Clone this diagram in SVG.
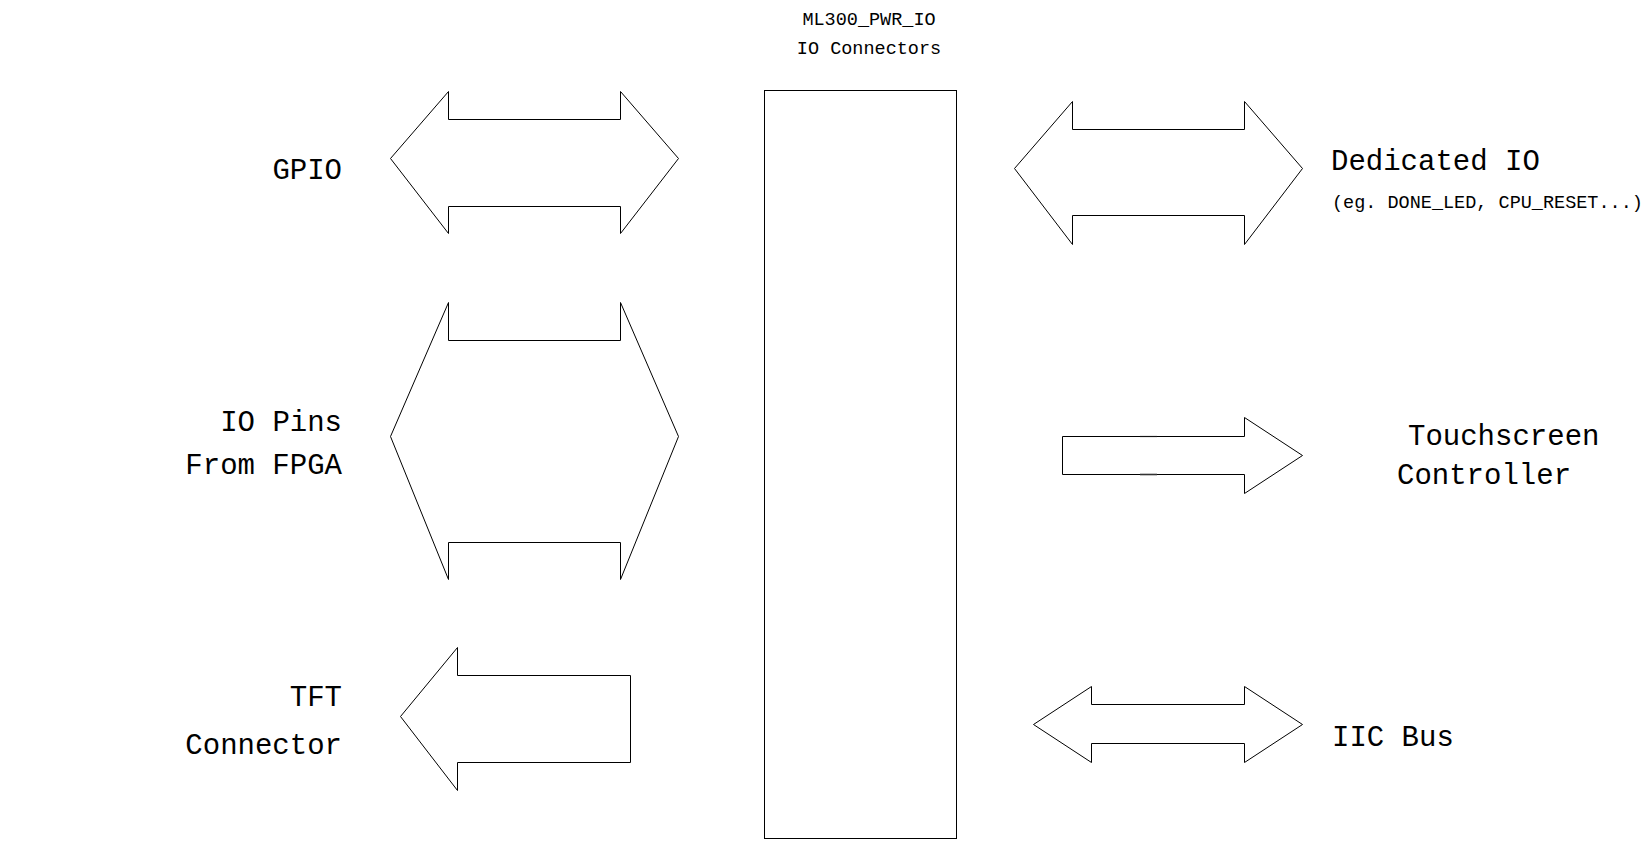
<svg xmlns="http://www.w3.org/2000/svg" width="1650" height="842" viewBox="0 0 1650 842">
<style>
.s{fill:#fff;stroke:#000;stroke-width:1;stroke-linejoin:miter}
.b{font-family:"Liberation Mono","Courier New",monospace;font-size:29px;fill:#000}
.m{font-family:"Liberation Mono","Courier New",monospace;font-size:18.5px;fill:#000}
.t{stroke:#333;stroke-width:1.6}
</style>
<rect width="1650" height="842" fill="#fff"/>
<g id="core">
<rect class="s" x="764.5" y="90.5" width="192" height="748"/>
<text class="m" x="869" y="25" text-anchor="middle">ML300_PWR_IO</text>
<text class="m" x="869" y="54" text-anchor="middle">IO Connectors</text>
</g>
<g id="connectors">
<polygon id="gpio-arrow" class="s" points="390.5,158.5 448.5,91.5 448.5,119.5 620.5,119.5 620.5,91.5 678.5,158.5 620.5,233.5 620.5,206.5 448.5,206.5 448.5,233.5"/>
<polygon id="iopins-arrow" class="s" points="390.5,436.5 448.5,302.5 448.5,340.5 620.5,340.5 620.5,302.5 678.5,436.5 620.5,579.5 620.5,542.5 448.5,542.5 448.5,579.5"/>
<polygon id="tft-arrow" class="s" points="400.5,716.5 457.5,647.5 457.5,675.5 630.5,675.5 630.5,762.5 457.5,762.5 457.5,790.5"/>
<polygon id="dedicated-arrow" class="s" points="1014.5,168.5 1072.5,101.5 1072.5,129.5 1244.5,129.5 1244.5,101.5 1302.5,168.5 1244.5,244.5 1244.5,215.5 1072.5,215.5 1072.5,244.5"/>
<polygon id="touch-arrow" class="s" points="1062.5,436.5 1244.5,436.5 1244.5,417.5 1302.5,455.5 1244.5,493.5 1244.5,474.5 1062.5,474.5"/>
<line class="t" x1="1140" y1="436.5" x2="1157" y2="436.5" stroke-opacity="0.35"/>
<line class="t" x1="1140" y1="474.5" x2="1157" y2="474.5"/>
<polygon id="iic-arrow" class="s" points="1033.5,724.5 1091.5,686.5 1091.5,704.5 1244.5,704.5 1244.5,686.5 1302.5,724.5 1244.5,762.5 1244.5,743.5 1091.5,743.5 1091.5,762.5"/>
</g>
<g id="gpio"><text class="b" x="342" y="179" text-anchor="end">GPIO</text></g>
<g id="iopins"><text class="b" x="342" y="431" text-anchor="end">IO Pins</text><text class="b" x="342" y="474" text-anchor="end">From FPGA</text></g>
<g id="tft"><text class="b" x="342" y="706" text-anchor="end">TFT</text><text class="b" x="342" y="754" text-anchor="end">Connector</text></g>
<g id="dedicated"><text class="b" x="1331" y="170">Dedicated IO</text><text class="m" x="1332" y="208">(eg. DONE_LED, CPU_RESET...)</text></g>
<g id="touch"><text class="b" x="1408" y="445">Touchscreen</text><text class="b" x="1397" y="484">Controller</text></g>
<g id="iic"><text class="b" x="1332" y="746">IIC Bus</text></g>
</svg>
